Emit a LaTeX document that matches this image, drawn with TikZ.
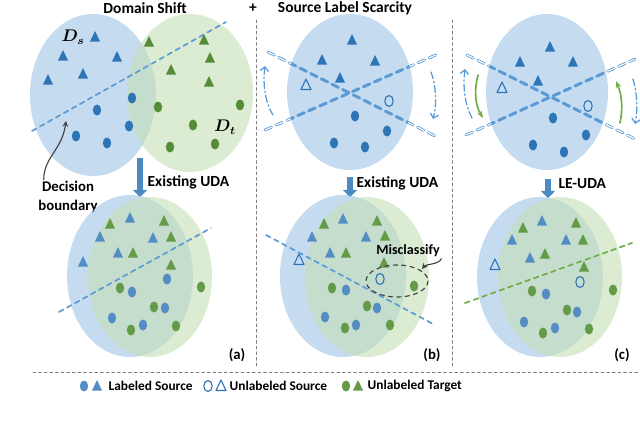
\documentclass[tikz,border=0pt]{standalone}
\usepackage{fontspec}
\setmainfont{Carlito}
\usetikzlibrary{arrows.meta}
\definecolor{ellblue}{RGB}{157,195,230}
\definecolor{ellgreen}{RGB}{197,224,180}
\definecolor{ptblue}{RGB}{46,117,182}
\definecolor{ptgreen}{RGB}{84,140,56}
\definecolor{ptblueL}{RGB}{84,141,196}
\definecolor{ptgreenL}{RGB}{100,155,72}
\definecolor{lineblue}{RGB}{91,155,213}
\definecolor{linegreen}{RGB}{112,173,71}
\definecolor{annot}{RGB}{64,64,64}
\begin{document}
\begin{tikzpicture}[line join=round, line cap=round, >=stealth, x=0.025cm, y=-0.025cm]
	\tikzset{every node/.style={font=\bfseries\fontsize{11}{13}\selectfont, inner sep=1pt},
		blueset/.style={fill=ellblue, fill opacity=0.6},
		greenset/.style={fill=ellgreen, fill opacity=0.6},
		tri/.pic={\path[pic actions] (-5,4.5)--(5,4.5)--(0,-6)--cycle;},
		dot/.pic={\path[pic actions] (0,0) ellipse [x radius=4.2, y radius=5.5];},
		bnd/.style={lineblue, line width=1.2pt, dash pattern=on 3.5pt off 3pt},
		cross/.style={lineblue, line width=1.8pt, dash pattern=on 5pt off 3.5pt},
		crossout/.style={lineblue, line width=0.6pt, double=white, double distance=0.8pt, dash pattern=on 5pt off 3.5pt},
		rot/.style={lineblue, line width=0.9pt, dash pattern=on 5pt off 2pt on 1pt off 2pt, -{Straight Barb[length=3pt]}},
		turn/.style={linegreen, line width=1.2pt, -{Stealth[length=5pt]}},
		uda/.style={ptblue!85, line width=4pt, line cap=butt, -{Triangle[length=5pt,width=10pt]}},
		sep/.style={gray, line width=0.6pt, dash pattern=on 2pt off 2pt},
		tag/.style={font=\bfseries\fontsize{10.5}{12}\selectfont},
		legtext/.style={anchor=west, font=\bfseries\fontsize{9.5}{11}\selectfont}}
	\useasboundingbox (0,0) rectangle (640,428);
	% separators
	\draw[sep] (256,20)--(256,368);
	\draw[sep] (452,20)--(452,368);
	\draw[sep] (33,372)--(640,372);
	\node (titleA) at (145,8) {Domain Shift};
	\node (plus) at (253,8) {+};
	\node (titleB) at (345,8) {Source Label Scarcity};
	% (a) top
	\fill[blueset] (93,95) ellipse [x radius=63, y radius=81];
	\fill[greenset] (190,93) ellipse [x radius=63, y radius=79];
	\foreach \x/\y in {95/37,63/56,117/57,48/80,83/74}
	\pic[fill=ptblue] at (\x,\y) {tri};
	\foreach \x/\y in {132/98,97/110,129/126,76/136,107/143}
	\pic[fill=ptblue] at (\x,\y) {dot};
	\foreach \x/\y in {149/42,204/40,210/58,171/70,209/82}
	\pic[fill=ptgreen] at (\x,\y) {tri};
	\foreach \x/\y in {158/107,240/105,193/125,215/144,170/147}
	\pic[fill=ptgreen] at (\x,\y) {dot};
	\draw[bnd] (32,131)--(226,22);
	\node[font=\boldmath\fontsize{12}{14}\selectfont] (Ds) at (73,37) {$D_s$};
	\node[font=\boldmath\fontsize{12}{14}\selectfont] (Dt) at (225,127) {$D_t$};
	\node[tag, align=center, font=\bfseries\fontsize{10.5}{13.5}\selectfont] (dec) at (68,197) {Decision\\boundary};
	\coordinate (decTip) at (66,121);
	\draw[annot, thick, ->] ([xshift=5pt]dec.north west) .. controls +(0,-22) and (62,150) .. (decTip);
	\coordinate (aTop) at (140,158);
	\coordinate (aBot) at (140,197);
	\draw[uda] (aTop)--(aBot);
	\node[anchor=west] (udaA) at (146,182) {Existing UDA};
	% (a) bottom
	\fill[blueset] (130,276) ellipse [x radius=63, y radius=81];
	\fill[greenset] (150,277) ellipse [x radius=62, y radius=80];
	\foreach \x/\y in {130/218,100/237,153/238,118/253,83/262}
	\pic[fill=ptblueL] at (\x,\y) {tri};
	\foreach \x/\y in {110/224,164/221,171/237,133/253,171/265}
	\pic[fill=ptgreenL] at (\x,\y) {tri};
	\foreach \x/\y in {167/279,132/292,165/308,112/318,143/325}
	\pic[fill=ptblueL] at (\x,\y) {dot};
	\foreach \x/\y in {120/288,201/287,154/307,131/330,176/326}
	\pic[fill=ptgreenL] at (\x,\y) {dot};
	\draw[bnd] (59,312)--(211,228);
	\node[tag] (tagA) at (237,355) {(a)};
	% (b) top
	\fill[blueset] (350,92) ellipse [x radius=63, y radius=78];
	\draw[crossout] (268,52)--(437,137);
	\draw[crossout] (265,130)--(438,54);
	\begin{scope}
		\clip (350,92) ellipse [x radius=63, y radius=78];
		\draw[cross] (268,52)--(437,137);
		\draw[cross] (265,130)--(438,54);
	\end{scope}
	\foreach \x/\y in {352/40,322/60,375/61,340/78}
	\pic[fill=ptblue] at (\x,\y) {tri};
	\foreach \x/\y in {355/116,387/131,334/143,365/147}
	\pic[fill=ptblue] at (\x,\y) {dot};
	\pic[draw=ptblue, thick] at (306,85) {tri};
	\pic[draw=ptblue, thick] at (389,101) {dot};
	\draw[rot] (273,115) .. controls (264,100) and (263,82) .. (265,66);
	\draw[rot] (431,72) .. controls (436,85) and (437,105) .. (433,119);
	\coordinate (bTop) at (350,177);
	\coordinate (bBot) at (350,197);
	\draw[uda] (bTop)--(bBot);
	\node[anchor=west] (udaB) at (355,183) {Existing UDA};
	% (b) bottom
	\fill[blueset] (343,276) ellipse [x radius=63, y radius=81];
	\fill[greenset] (367,277) ellipse [x radius=62, y radius=80];
	\foreach \x/\y in {343/219,312/237,366/237,330/253}
	\pic[fill=ptblueL] at (\x,\y) {tri};
	\foreach \x/\y in {324/224,377/221,385/236,346/253,384/263}
	\pic[fill=ptgreenL] at (\x,\y) {tri};
	\foreach \x/\y in {346/290,377/308,325/317,356/325}
	\pic[fill=ptblueL] at (\x,\y) {dot};
	\foreach \x/\y in {332/288,414/286,367/306,345/328,390/325}
	\pic[fill=ptgreenL] at (\x,\y) {dot};
	\draw[bnd] (266,235)--(435,325);
	\pic[draw=ptblue, thick] at (299,260) {tri};
	\pic[draw=ptblue, thick] at (380,279) {dot};
	\draw[annot, thick, dashed] (397,281) ellipse [x radius=31, y radius=16];
	\node[font=\bfseries\fontsize{10}{12}\selectfont] (miscl) at (408,251) {Misclassify};
	\coordinate (misTip) at (422,269);
	\draw[annot, thick, ->] (miscl.south east) .. controls +(-3,6) and (426,264) .. (misTip);
	\node[tag] (tagB) at (432,355) {(b)};
	% (c) top
	\fill[blueset] (547,92) ellipse [x radius=61, y radius=78];
	\draw[crossout] (467,55)--(637,140);
	\draw[crossout] (466,135)--(635,59);
	\begin{scope}
		\clip (547,92) ellipse [x radius=61, y radius=78];
		\draw[cross] (467,55)--(637,140);
		\draw[cross] (466,135)--(635,59);
	\end{scope}
	\foreach \x/\y in {550/47,520/62,573/62,538/81}
	\pic[fill=ptblue] at (\x,\y) {tri};
	\foreach \x/\y in {553/118,586/135,533/145,564/152}
	\pic[fill=ptblue] at (\x,\y) {dot};
	\pic[draw=ptblue, thick] at (502,88) {tri};
	\pic[draw=ptblue, thick] at (588,106) {dot};
	\draw[rot] (472,118) .. controls (464,103) and (463,85) .. (465,69);
	\draw[rot] (633,79) .. controls (637,92) and (638,110) .. (635,124);
	\draw[turn] (478,75) .. controls (474,90) and (475,105) .. (483,118);
	\draw[turn] (620,123) .. controls (623,108) and (622,95) .. (616,81);
	\coordinate (cTop) at (548,179);
	\coordinate (cBot) at (548,198);
	\draw[uda] (cTop)--(cBot);
	\node[anchor=west] (udaC) at (557,184) {LE-UDA};
	% (c) bottom
	\fill[blueset] (540,277) ellipse [x radius=63, y radius=80];
	\fill[greenset] (560,277) ellipse [x radius=62, y radius=80];
	\foreach \x/\y in {542/221,512/240,566/240,530/258}
	\pic[fill=ptblueL] at (\x,\y) {tri};
	\foreach \x/\y in {523/228,576/223,583/240,545/254,584/267}
	\pic[fill=ptgreenL] at (\x,\y) {tri};
	\foreach \x/\y in {546/294,577/312,524/322,555/328}
	\pic[fill=ptblueL] at (\x,\y) {dot};
	\foreach \x/\y in {532/291,613/290,567/310,543/333,589/329}
	\pic[fill=ptgreenL] at (\x,\y) {dot};
	\draw[bnd, linegreen] (465,303)--(632,243);
	\pic[draw=ptblue, thick] at (495,265) {tri};
	\pic[draw=ptblue, thick] at (580,282) {dot};
	\node[tag] (tagC) at (622,355) {(c)};
	% legend
	\pic[fill=ptblueL] at (84,386) {dot};
	\pic[fill=ptblueL] at (97,386) {tri};
	\node[legtext] (legLS) at (107,386) {Labeled Source};
	\pic[draw=ptblue, thick] at (208,386) {dot};
	\pic[draw=ptblue, thick] at (221,386) {tri};
	\node[legtext] (legUS) at (228,386) {Unlabeled Source};
	\pic[fill=ptgreenL] at (346,386) {dot};
	\pic[fill=ptgreenL] at (358,386) {tri};
	\node[legtext] (legUT) at (366,386) {Unlabeled Target};
\end{tikzpicture}
\end{document}
